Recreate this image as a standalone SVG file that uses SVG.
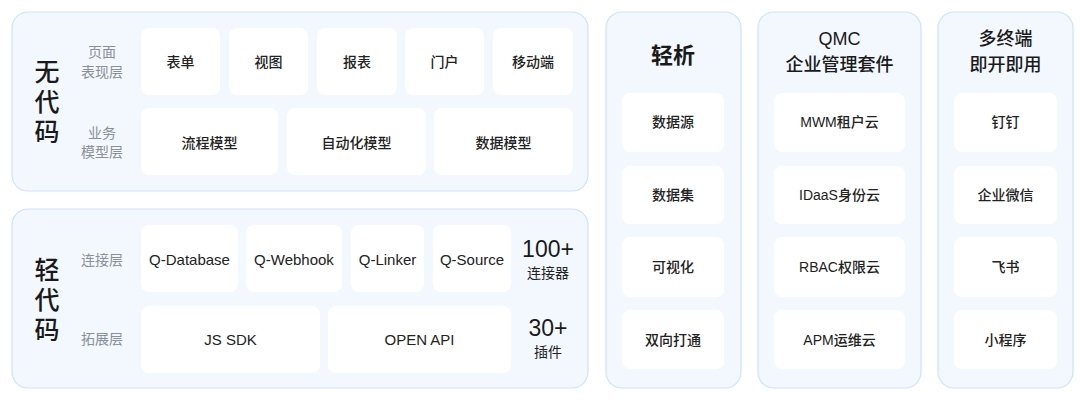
<svg xmlns="http://www.w3.org/2000/svg" width="1080" height="402" viewBox="0 0 1080 402">
<style>
.panel{fill:#f3f8fe;stroke:#cfe2fa;stroke-width:1.2}
.box{fill:#ffffff}
text{font-family:"Liberation Sans","Noto Sans CJK SC",sans-serif;text-anchor:middle;dominant-baseline:central}
.t{font-size:14px;fill:#222;font-weight:500}
.l{font-size:15px;fill:#222}
.lab{font-size:14px;fill:#8a8f99}
.big{font-size:25px;fill:#1a1a1a;font-weight:500}
.title{font-size:18px;fill:#1a1a1a;font-weight:500}
.title2{font-size:22px;fill:#1a1a1a;font-weight:700}
.num{font-size:23px;fill:#1a1a1a}
.sub{font-size:14px;fill:#222}
</style>
<rect width="1080" height="402" fill="#ffffff"/>

<g id="nocode">
<rect class="panel" x="12" y="12" width="576" height="179" rx="16"/>
<text class="big" x="47" y="72">无</text>
<text class="big" x="47" y="102">代</text>
<text class="big" x="47" y="132">码</text>
<text class="lab" x="102" y="52">页面</text>
<text class="lab" x="102" y="72">表现层</text>
<text class="lab" x="102" y="133">业务</text>
<text class="lab" x="102" y="152">模型层</text>
</g>
<g id="n-form"><rect class="box" x="141" y="28" width="79" height="67" rx="8"/><text class="t" x="180.5" y="62">表单</text></g>
<g id="n-view"><rect class="box" x="229" y="28" width="79" height="67" rx="8"/><text class="t" x="268.5" y="62">视图</text></g>
<g id="n-report"><rect class="box" x="317" y="28" width="80" height="67" rx="8"/><text class="t" x="357" y="62">报表</text></g>
<g id="n-portal"><rect class="box" x="405" y="28" width="79" height="67" rx="8"/><text class="t" x="444.5" y="62">门户</text></g>
<g id="n-mobile"><rect class="box" x="493" y="28" width="80" height="67" rx="8"/><text class="t" x="533" y="62">移动端</text></g>
<g id="n-flow"><rect class="box" x="141" y="108" width="137" height="67" rx="8"/><text class="t" x="209.5" y="143">流程模型</text></g>
<g id="n-auto"><rect class="box" x="287" y="108" width="139" height="67" rx="8"/><text class="t" x="356.5" y="143">自动化模型</text></g>
<g id="n-data"><rect class="box" x="434" y="108" width="139" height="67" rx="8"/><text class="t" x="503.5" y="143">数据模型</text></g>

<g id="lowcode">
<rect class="panel" x="12" y="209" width="576" height="179" rx="16"/>
<text class="big" x="47" y="270">轻</text>
<text class="big" x="47" y="300">代</text>
<text class="big" x="47" y="330">码</text>
<text class="lab" x="102" y="260">连接层</text>
<text class="lab" x="102" y="339">拓展层</text>
<text class="num" x="548" y="249">100+</text>
<text class="sub" x="548" y="273">连接器</text>
<text class="num" x="548" y="328">30+</text>
<text class="sub" x="548" y="352">插件</text>
</g>
<g id="n-qdb"><rect class="box" x="141" y="225" width="97" height="67" rx="8"/><text class="l" x="189.5" y="259">Q-Database</text></g>
<g id="n-qwh"><rect class="box" x="246" y="225" width="96" height="67" rx="8"/><text class="l" x="294" y="259">Q-Webhook</text></g>
<g id="n-qlk"><rect class="box" x="351" y="225" width="73" height="67" rx="8"/><text class="l" x="387.5" y="259">Q-Linker</text></g>
<g id="n-qsrc"><rect class="box" x="433" y="225" width="78" height="67" rx="8"/><text class="l" x="472" y="259">Q-Source</text></g>
<g id="n-jssdk"><rect class="box" x="141" y="306" width="179" height="67" rx="8"/><text class="l" x="230.5" y="339">JS SDK</text></g>
<g id="n-openapi"><rect class="box" x="328" y="306" width="183" height="67" rx="8"/><text class="l" x="419.5" y="339">OPEN API</text></g>

<g id="qingxi">
<rect class="panel" x="606" y="12" width="135" height="376" rx="16"/>
<text class="title2" x="673" y="55">轻析</text>
</g>
<g id="n-ds"><rect class="box" x="622" y="93" width="102" height="59" rx="8"/><text class="t" x="673" y="122">数据源</text></g>
<g id="n-dset"><rect class="box" x="622" y="166" width="102" height="58" rx="8"/><text class="t" x="673" y="195">数据集</text></g>
<g id="n-vis"><rect class="box" x="622" y="237" width="102" height="60" rx="8"/><text class="t" x="673" y="267">可视化</text></g>
<g id="n-bi"><rect class="box" x="622" y="310" width="102" height="59" rx="8"/><text class="t" x="673" y="340">双向打通</text></g>

<g id="qmc">
<rect class="panel" x="758" y="12" width="163" height="376" rx="16"/>
<text class="title" x="839.5" y="39">QMC</text>
<text class="title" x="839.5" y="65">企业管理套件</text>
</g>
<g id="n-mwm"><rect class="box" x="774" y="93" width="131" height="59" rx="8"/><text class="t" x="839.5" y="122">MWM租户云</text></g>
<g id="n-idaas"><rect class="box" x="774" y="166" width="131" height="58" rx="8"/><text class="t" x="839.5" y="195">IDaaS身份云</text></g>
<g id="n-rbac"><rect class="box" x="774" y="237" width="131" height="60" rx="8"/><text class="t" x="839.5" y="267">RBAC权限云</text></g>
<g id="n-apm"><rect class="box" x="774" y="310" width="131" height="59" rx="8"/><text class="t" x="839.5" y="340">APM运维云</text></g>

<g id="terminals">
<rect class="panel" x="938" y="12" width="135" height="376" rx="16"/>
<text class="title" x="1005.5" y="39">多终端</text>
<text class="title" x="1005.5" y="65">即开即用</text>
</g>
<g id="n-dd"><rect class="box" x="954" y="93" width="103" height="59" rx="8"/><text class="t" x="1005.5" y="122">钉钉</text></g>
<g id="n-wx"><rect class="box" x="954" y="166" width="103" height="58" rx="8"/><text class="t" x="1005.5" y="195">企业微信</text></g>
<g id="n-fs"><rect class="box" x="954" y="237" width="103" height="60" rx="8"/><text class="t" x="1005.5" y="267">飞书</text></g>
<g id="n-mp"><rect class="box" x="954" y="310" width="103" height="59" rx="8"/><text class="t" x="1005.5" y="340">小程序</text></g>

<g id="connectors"></g>
</svg>
